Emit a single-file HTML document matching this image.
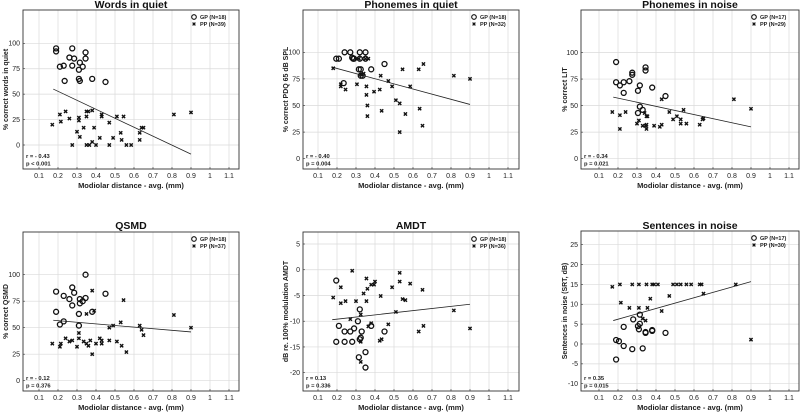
<!DOCTYPE html>
<html><head><meta charset="utf-8"><style>
html,body{margin:0;padding:0;background:#fff}
svg{display:block;font-family:"Liberation Sans",Arial,sans-serif}
</style></head><body>
<svg id="chart" width="800" height="412" viewBox="0 0 800 412" xmlns="http://www.w3.org/2000/svg"></svg>
<script>
// ---- data ----
const p1GpX=[0.19,0.19,0.21,0.23,0.275,0.26,0.285,0.275,0.235,0.31,0.315,0.33,0.31,0.315,0.345,0.345,0.38,0.45];
const p1GpY=[95,92,77,78,95,86,85,78,63,74,81,77,65,63,91,85,65,62];
const p1PpX=[0.17,0.21,0.215,0.24,0.26,0.275,0.3,0.31,0.31,0.315,0.335,0.35,0.35,0.36,0.35,0.365,0.38,0.38,0.39,0.4,0.42,0.43,0.43,0.47,0.47,0.49,0.51,0.53,0.535,0.545,0.56,0.585,0.63,0.63,0.64,0.65,0.81,0.9];
const p1PpY=[20,30,23,33,26,0,13,27,24,8,17,33,28,33,0,0,3,34,17,0,7,28,30,22,0,7,28,12,5,28,0,0,12,5,17,17,30,32];
const p1Line=[[0.175,55],[0.9,-9]];

const p2GpX=[0.196,0.21,0.24,0.27,0.235,0.28,0.285,0.32,0.32,0.325,0.335,0.35,0.35,0.38,0.45,0.29,0.315,0.325];
const p2GpY=[94,94,100,100,71,95,94,100,94,84,78,100,94,84,89,94,84,78];
const p2PpX=[0.18,0.22,0.22,0.245,0.305,0.34,0.325,0.355,0.355,0.36,0.36,0.365,0.395,0.425,0.43,0.435,0.47,0.49,0.51,0.53,0.53,0.545,0.56,0.585,0.63,0.635,0.655,0.65,0.815,0.9,0.315,0.35];
const p2PpY=[85,70,68,65,70,80,79,68,60,50,40,94,63,65,78,45,73,68,55,52,25,84,42,68,84,47,89,31,78,75,94,94];
const p2Line=[[0.175,86],[0.9,51]];

const p3GpX=[0.19,0.19,0.21,0.23,0.23,0.26,0.275,0.275,0.305,0.305,0.315,0.315,0.33,0.345,0.345,0.38,0.45];
const p3GpY=[91,72,69,72,62,73,81,79,43,64,69,49,46,86,83,67,59];
const p3PpX=[0.17,0.21,0.21,0.24,0.3,0.31,0.345,0.34,0.35,0.35,0.35,0.355,0.39,0.42,0.43,0.43,0.47,0.49,0.51,0.53,0.545,0.53,0.56,0.63,0.645,0.65,0.81,0.9,0.33];
const p3PpY=[44,28,41,44,33,36,31,43,40,32,28,40,31,30,32,56,44,37,40,37,46,33,33,32,37,38,56,47,31];
const p3Line=[[0.175,58],[0.9,30]];

const p4GpX=[0.19,0.23,0.26,0.275,0.285,0.275,0.19,0.21,0.23,0.31,0.315,0.315,0.33,0.345,0.345,0.38,0.31,0.45];
const p4GpY=[84,80,77,88,83,71,65,53,56,63,77,73,75,78,100,65,52,82];
const p4PpX=[0.17,0.21,0.215,0.24,0.26,0.275,0.3,0.31,0.31,0.335,0.35,0.36,0.35,0.37,0.38,0.38,0.39,0.4,0.42,0.43,0.43,0.47,0.47,0.49,0.51,0.53,0.535,0.545,0.56,0.63,0.64,0.65,0.81,0.9];
const p4PpY=[35,32,35,40,37,38,32,45,40,37,35,33,63,38,25,85,66,35,40,35,38,50,38,52,37,55,33,76,27,52,48,43,62,50];
const p4Line=[[0.175,57],[0.9,46]];

const p5GpX=[0.196,0.21,0.196,0.24,0.24,0.27,0.28,0.29,0.32,0.31,0.32,0.315,0.33,0.35,0.35,0.38,0.45,0.325];
const p5GpY=[-2.1,-10.9,-14,-14,-12,-12,-14,-11.4,-7.7,-10,-13.5,-17,-12,-16,-19,-10.9,-12,-13.2];
const p5PpX=[0.18,0.22,0.22,0.245,0.28,0.27,0.3,0.325,0.325,0.325,0.34,0.355,0.36,0.355,0.365,0.38,0.395,0.4,0.38,0.425,0.43,0.435,0.47,0.49,0.51,0.53,0.53,0.545,0.56,0.585,0.63,0.65,0.655,0.815,0.9];
const p5PpY=[-5.4,-3.4,-6.5,-6.1,-0.2,-9.6,-6.1,-8.7,-14,-17.9,-4.6,-1.7,-3.7,-6.1,-11,-2.9,-2.9,-2.3,-10.4,-13.8,-5.1,-13.5,-10.6,-3.4,-8.2,-2.3,-0.6,-5.7,-5.9,-2.7,-12,-3.9,-10.9,-7.9,-11.4];
const p5Line=[[0.175,-9.7],[0.9,-6.7]];

const p6GpX=[0.19,0.19,0.205,0.23,0.23,0.275,0.28,0.305,0.31,0.315,0.315,0.33,0.345,0.345,0.38,0.38,0.45];
const p6GpY=[1,-3.9,0.7,4.3,-0.5,-1.3,6.2,4.5,3.7,7.4,5.1,-1.1,3,2.8,3.5,3.3,2.8];
const p6PpX=[0.17,0.21,0.215,0.26,0.275,0.31,0.31,0.33,0.345,0.35,0.355,0.37,0.38,0.39,0.41,0.43,0.47,0.49,0.51,0.53,0.56,0.585,0.63,0.64,0.65,0.82,0.9];
const p6PpY=[14.4,15,10.4,9.1,15,9.1,15,6.4,5.9,15,9.1,11.4,15,15,15,8.3,12.1,15,15,15,15,15,15,15,12.7,15,1.1];
const p6Line=[[0.175,5.9],[0.9,15.7]];

const xTicks=[0.1,0.2,0.3,0.4,0.5,0.6,0.7,0.8,0.9,1,1.1];
const yTicksPct=[0,25,50,75,100];
const yTicksAmdt=[-20,-15,-10,-5,0,5];
const yTicksSrt=[-10,-5,0,5,10,15,20,25];

const panels=[
 {name:'words-in-quiet',title:'Words in quiet',yl:'% correct words in quiet',box:[23,239,10,169],xa:[0.1,39,1.1,229],ya:[100,43.3,0,145],yt:yTicksPct,gx:p1GpX,gy:p1GpY,px:p1PpX,py:p1PpY,line:p1Line,gpN:'GP (N=18)',ppN:'PP (N=39)',r:'r = - 0.43',p:'p < 0.001',ylx:4,tty:8},
 {name:'phonemes-in-quiet',title:'Phonemes in quiet',yl:'% correct PDQ 65 dB SPL',box:[303,519,10,169],xa:[0.1,318,1.1,508],ya:[100,52.3,0,158.7],yt:yTicksPct,gx:p2GpX,gy:p2GpY,px:p2PpX,py:p2PpY,line:p2Line,gpN:'GP (N=18)',ppN:'PP (N=32)',r:'r = - 0.40',p:'p = 0.004',ylx:284,tty:8},
 {name:'phonemes-in-noise',title:'Phonemes in noise',yl:'% correct LIT',box:[581,799,10,169],xa:[0.1,599,1.1,789],ya:[100,52.5,0,158.7],yt:yTicksPct,gx:p3GpX,gy:p3GpY,px:p3PpX,py:p3PpY,line:p3Line,gpN:'GP (N=17)',ppN:'PP (N=29)',r:'r = - 0.34',p:'p = 0.021',ylx:563,tty:8},
 {name:'qsmd',title:'QSMD',yl:'% correct QSMD',box:[23,239,232,391],xa:[0.1,39,1.1,229],ya:[100,274.7,0,380.7],yt:yTicksPct,gx:p4GpX,gy:p4GpY,px:p4PpX,py:p4PpY,line:p4Line,gpN:'GP (N=18)',ppN:'PP (N=37)',r:'r = - 0.12',p:'p = 0.376',ylx:4,tty:229},
 {name:'amdt',title:'AMDT',yl:'dB re. 100% modulation AMDT',box:[303,519,232,391],xa:[0.1,318,1.1,508],ya:[5,244,-20,372.7],yt:yTicksAmdt,gx:p5GpX,gy:p5GpY,px:p5PpX,py:p5PpY,line:p5Line,gpN:'GP (N=18)',ppN:'PP (N=36)',r:'r = 0.13',p:'p = 0.336',ylx:284,tty:229},
 {name:'sentences-in-noise',title:'Sentences in noise',yl:'Sentences in noise (SRT, dB)',box:[581,799,231,391],xa:[0.1,599,1.1,789],ya:[25,244.7,-10,383.7],yt:yTicksSrt,gx:p6GpX,gy:p6GpY,px:p6PpX,py:p6PpY,line:p6Line,gpN:'GP (N=17)',ppN:'PP (N=30)',r:'r = 0.35',p:'p = 0.015',ylx:563,tty:229}
];
const NS='http://www.w3.org/2000/svg';
const svg=document.getElementById('chart');
function mk(tag,attrs,parent,text){const e=document.createElementNS(NS,tag);for(const k in attrs)e.setAttribute(k,attrs[k]);if(text!==undefined)e.textContent=text;parent.appendChild(e);return e;}

panels.forEach(P=>{
  const [L,R,T,B]=P.box;
  const sx=v=>P.xa[1]+(v-P.xa[0])*(P.xa[3]-P.xa[1])/(P.xa[2]-P.xa[0]);
  const sy=v=>P.ya[1]+(v-P.ya[0])*(P.ya[3]-P.ya[1])/(P.ya[2]-P.ya[0]);
  const g=mk('g',{},svg);
  
  
  mk('rect',{x:L,y:T,width:R-L,height:B-T,fill:'#fff'},g);
  xTicks.forEach(t=>{
    const x=sx(t);
    const gl=mk('line',{x1:x,x2:x,y1:T,y2:B,stroke:'#dadada','stroke-width':0.7},g);
    
    
    mk('line',{x1:x,x2:x,y1:B,y2:B-2,stroke:'#333','stroke-width':0.6},g);
    const tl=mk('text',{x:x,y:B+9,'font-size':7,'text-anchor':'middle',fill:'#222'},g,String(t));
    
    
  });
  P.yt.forEach(t=>{
    const y=sy(t);
    const gl=mk('line',{x1:L,x2:R,y1:y,y2:y,stroke:'#dadada','stroke-width':0.7},g);
    
    
    mk('line',{x1:L,x2:L+2,y1:y,y2:y,stroke:'#333','stroke-width':0.6},g);
    const tl=mk('text',{x:L-3,y:y+2.4,'font-size':7,'text-anchor':'end',fill:'#222'},g,String(t));
    
    
  });
  const fr=mk('rect',{x:L,y:T,width:R-L,height:B-T,fill:'none',stroke:'#333','stroke-width':0.9},g);
  
  
  const ln=mk('line',{x1:sx(P.line[0][0]),y1:sy(P.line[0][1]),x2:sx(P.line[1][0]),y2:sy(P.line[1][1]),stroke:'#222','stroke-width':0.8},g);
  
  
  P.px.forEach((v,i)=>{
    const x=sx(v),y=sy(P.py[i]);
    const m=mk('path',{d:`M${x-1.6},${y-1.6}L${x+1.6},${y+1.6}M${x-1.6},${y+1.6}L${x+1.6},${y-1.6}`,stroke:'#111','stroke-width':1.4},g);
    
    
  });
  P.gx.forEach((v,i)=>{
    const c=mk('circle',{cx:sx(v),cy:sy(P.gy[i]),r:2.5,fill:'none',stroke:'#111','stroke-width':1.3},g);
    
    
  });
  const lx=R-45;
  const lg=mk('g',{},g);
  
  
  mk('circle',{cx:lx,cy:T+7,r:2.3,fill:'none',stroke:'#111','stroke-width':1.1},lg);
  mk('text',{x:lx+6,y:T+9,'font-size':5.5,'font-weight':'bold',fill:'#222'},lg,P.gpN);
  mk('path',{d:`M${lx-1.4},${T+12.6}L${lx+1.4},${T+15.4}M${lx-1.4},${T+15.4}L${lx+1.4},${T+12.6}`,stroke:'#111','stroke-width':1.2},lg);
  mk('text',{x:lx+6,y:T+16,'font-size':5.5,'font-weight':'bold',fill:'#222'},lg,P.ppN);
  const st=mk('text',{x:L+3,y:B-11,'font-size':5.8,'font-weight':'bold',fill:'#222'},g,P.r);
  
  
  const sp=mk('text',{x:L+3,y:B-3.5,'font-size':5.8,'font-weight':'bold',fill:'#222'},g,P.p);
  
  
  const tt=mk('text',{x:(L+R)/2,y:P.tty,'font-size':10.5,'font-weight':'bold','text-anchor':'middle',fill:'#111'},g,P.title);
  
  
  const xl=mk('text',{x:(L+R)/2,y:B+19,'font-size':7.5,'font-weight':'bold','text-anchor':'middle',fill:'#222'},g,'Modiolar distance - avg. (mm)');
  
  
  const yc=(T+B)/2, yx=P.ylx+4;
  const yl=mk('text',{x:yx,y:yc,'font-size':7,'font-weight':'bold','text-anchor':'middle',fill:'#222',transform:`rotate(-90 ${yx} ${yc})`},g,P.yl);
  
  
});
</script>
</body></html>
